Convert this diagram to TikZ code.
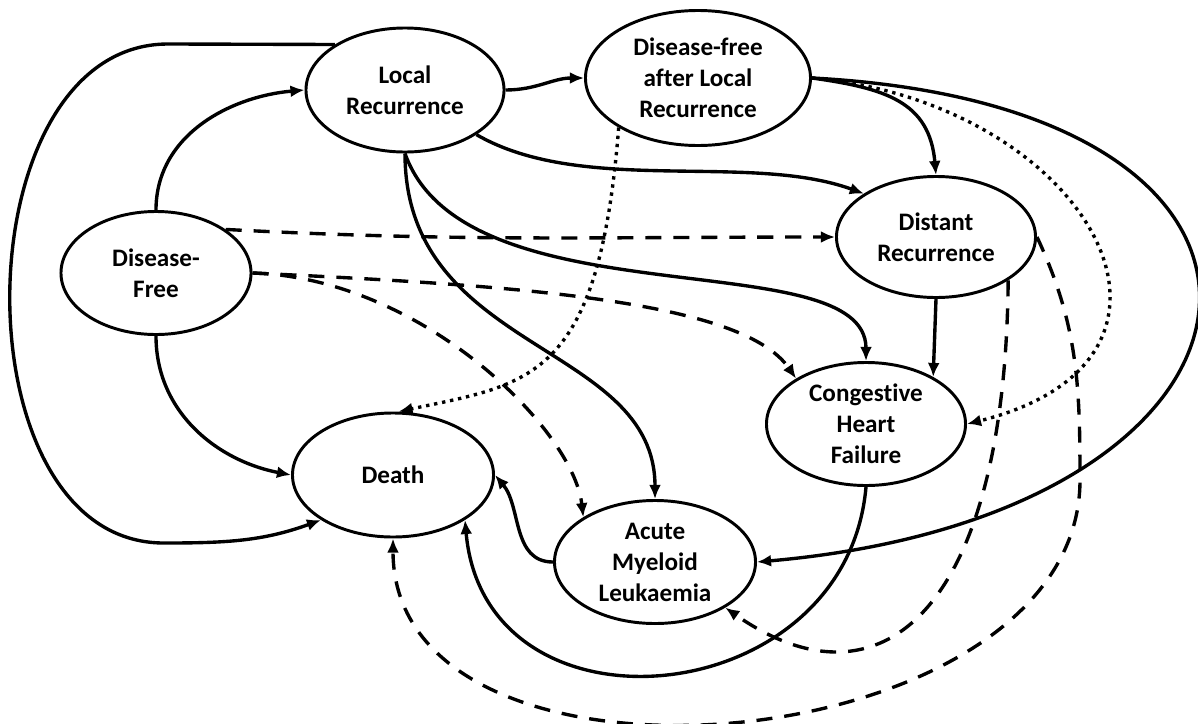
\documentclass[tikz,border=0pt]{standalone}
\usepackage{fontspec}
\setmainfont{Carlito}[Ligatures=NoCommon]
\usepackage{tikz}
\usetikzlibrary{shapes.geometric}
\usetikzlibrary{arrows.meta}
\tikzset{my_graph/.style={->,>={Latex[length=10pt,width=8.5pt]},line width=2.4pt,x=0.025cm,y=0.025cm}}
\tikzset{my_state/.style={ellipse, draw, line width=2.1pt, inner sep=0pt, align=center, minimum width=5cm, minimum height=3.1cm, font=\fontsize{17.9}{22}\selectfont\bfseries}}
\tikzset{my_dashed/.style={dash pattern=on 11.4pt off 8.5pt}}
\tikzset{my_dotted/.style={dash pattern=on 2.4pt off 3.4pt}}

\begin{document}
\begin{tikzpicture}[my_graph]
    \tikzstyle{every node}=[my_state]
    \useasboundingbox (0,0) rectangle (1198,-724);
    \node[minimum width=4.75cm, minimum height=3.075cm] (df) at (156,-273) {Disease-\\Free};
    \node[minimum width=4.95cm] (lr) at (405,-90) {Local\\Recurrence};
    \node[minimum width=5.625cm, minimum height=3.375cm] (dflr) at (698,-78) {Disease-free\\after Local\\Recurrence};
    \node[minimum width=4.975cm, minimum height=3.025cm] (dr) at (936,-237) {Distant\\Recurrence};
    \node[minimum width=4.975cm, minimum height=3.075cm] (chf) at (866,-424) {Congestive\\Heart\\Failure};
    \node[minimum width=5.025cm] (death) at (393,-475) {Death};
    \node[minimum width=5.025cm, minimum height=3.075cm] (aml) at (655,-562) {Acute\\Myeloid\\Leukaemia};

    \path
        (df.north) edge [out=90, in=185] (lr.west)
        (df.south) edge [out=-90, in=169] (death.west)
        (df.32) edge [my_dashed, out=-3, in=180] (dr.west)
        (lr.east) edge [out=0, in=180] (dflr.west)
        (lr.-32) edge [out=-30, in=160, looseness=0.8] (dr.149)
        (dflr.east) edge [out=-8, in=95, looseness=1.2] (dr.north)
        (dflr.east) edge [out=-3, in=5, looseness=2.9] (aml.east)
        (dflr.east) edge [my_dotted, out=-5, in=14, looseness=1.85] (chf.east)
        (dr.south) edge (chf.35)
        (aml.west) edge [out=180, in=-50] (death.east)
        (chf.south) edge [out=-95, in=-85, looseness=1.45] (death.-32)
    ;
    \draw (lr.147) -- (168,-44) .. controls (-40,-44) and (-45,-545) .. (165,-543) to[out=0, in=200] (death.212);
    \draw (lr.south) .. controls +(60,-170) and +(0,120) .. (chf.north);
    \draw (lr.south) .. controls +(0,-200) and +(0,157) .. (aml.north);
    \draw[my_dashed] (df.east) .. controls +(250,-12) and +(-55,80) .. (chf.147);
    \draw[my_dashed] (df.east) .. controls +(169,-5) and +(-10,88) .. (aml.148);
    \draw[my_dashed] (dr.east) to[out=-65, in=90] (1080,-480) to[out=-90, in=-90, looseness=1.05] (death.south);
    \draw[my_dashed] (dr.-31) .. controls +(-3,-330) and +(156,-109) .. (aml.-33);
    \draw[my_dotted] (dflr.212) .. controls +(-20,-253) and +(132,28) .. (death.85);
\end{tikzpicture}
\end{document}
